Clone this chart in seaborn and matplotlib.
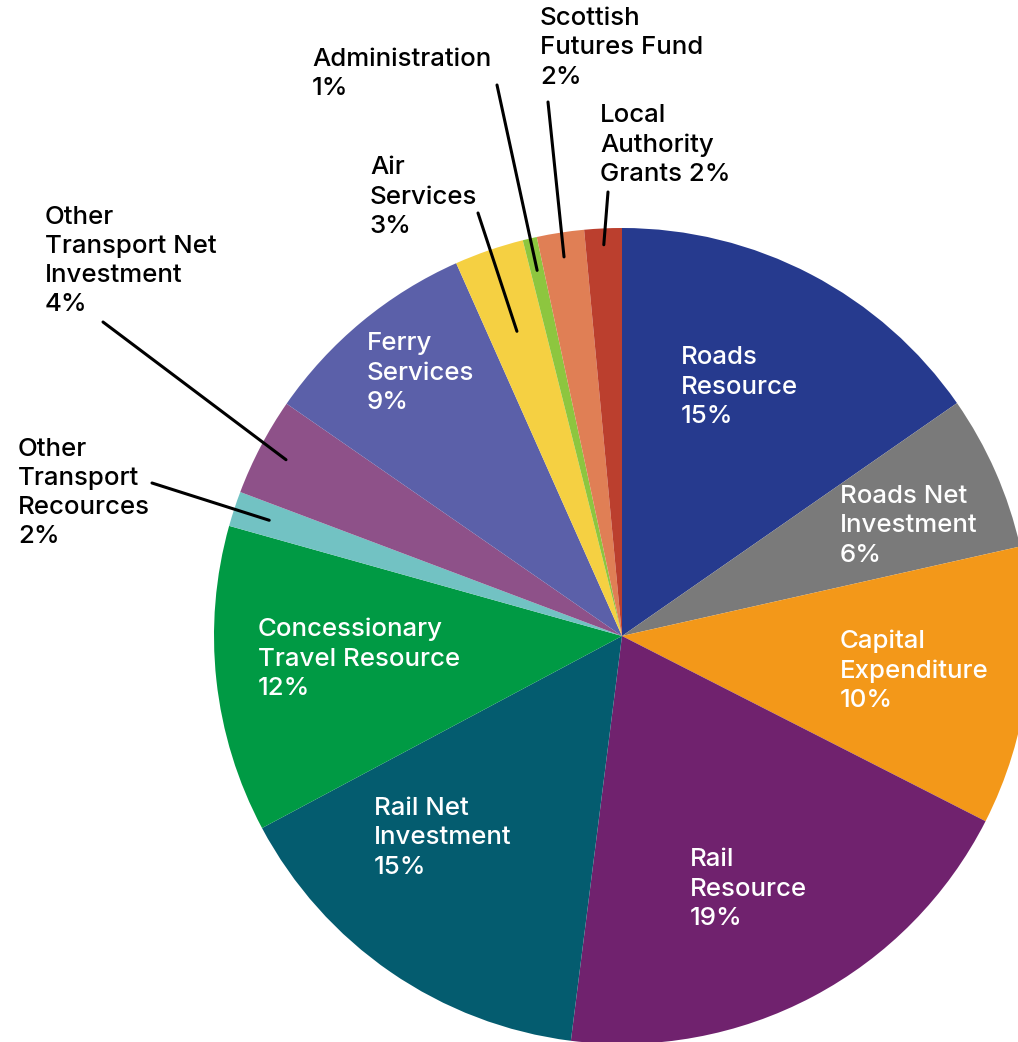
import matplotlib.pyplot as plt
import seaborn as sns
import numpy as np

# slice shares (clockwise from 12 o'clock)
categories = ['Roads Resource', 'Roads Net Investment', 'Capital Expenditure',
              'Rail Resource', 'Rail Net Investment', 'Concessionary Travel Resource',
              'Other Transport Recources', 'Other Transport Net Investment',
              'Ferry Services', 'Air Services', 'Administration',
              'Scottish Futures Fund', 'Local Authority Grants']
shares = [15.33, 6.15, 11.02, 19.5, 15.2, 12.15, 1.39, 3.9, 8.7, 2.75, 0.56, 1.87, 1.48]
labels = ['Roads\nResource\n15%', 'Roads Net\nInvestment\n6%', 'Capital\nExpenditure\n10%',
          'Rail\nResource\n19%', 'Rail Net\nInvestment\n15%', 'Concessionary\nTravel Resource\n12%',
          'Other\nTransport\nRecources\n2%', 'Other\nTransport Net\nInvestment\n4%',
          'Ferry\nServices\n9%', 'Air\nServices\n3%', 'Administration\n1%',
          'Scottish\nFutures Fund\n2%', 'Local\nAuthority\nGrants 2%']
colors = ['#263a8e', '#7a7a7a', '#f39819', '#70226e', '#045c6f', '#009a44',
          '#72c2c3', '#8e5189', '#5b60a9', '#f5d042', '#8dc63f', '#e07f55', '#bb3f2e']

sns.set_theme(style='white')
plt.rcParams['font.family'] = ['Inter', 'DejaVu Sans']

W, H = 1018, 1042
fig = plt.figure(figsize=(W / 100, H / 100), dpi=100)
ax = fig.add_axes([0, 0, 1, 1])
cx, cy, R = 622, H - 636, 408

wedges, _ = ax.pie(shares, colors=sns.color_palette(colors), startangle=90, counterclock=False,
                   radius=R, center=(cx, cy), wedgeprops=dict(linewidth=0))
ax.set_xlim(0, W)
ax.set_ylim(0, H)
ax.set_aspect('equal')
ax.axis('off')

# label placement: (left x, centre y in picture pixels, text colour)
pos = {
    'Roads Resource': (681, 387, 'white'),
    'Roads Net Investment': (840, 526, 'white'),
    'Capital Expenditure': (840, 671, 'white'),
    'Rail Resource': (690, 889, 'white'),
    'Rail Net Investment': (374, 838, 'white'),
    'Concessionary Travel Resource': (258, 659, 'white'),
    'Other Transport Recources': (18, 493, 'black'),
    'Other Transport Net Investment': (45, 261, 'black'),
    'Ferry Services': (367, 373, 'white'),
    'Air Services': (370, 197, 'black'),
    'Administration': (312, 74, 'black'),
    'Scottish Futures Fund': (540, 48, 'black'),
    'Local Authority Grants': (600, 145, 'black'),
}
# leader lines: outer end in pixels, inner end as fraction of radius on wedge middle
leaders = {
    'Other Transport Recources': ((152, 483), 0.91),
    'Other Transport Net Investment': ((103, 322), 0.93),
    'Air Services': ((478, 213), 0.79),
    'Administration': ((497, 85), 0.92),
    'Scottish Futures Fund': ((548, 102), 0.94),
    'Local Authority Grants': ((608, 192), 0.96),
}

for w, cat, lab in zip(wedges, categories, labels):
    x, y, c = pos[cat]
    ax.text(x, H - y, lab, color=c, fontsize=18.6, ha='left', va='center',
            linespacing=1.35, fontweight='medium')
    if cat in leaders:
        (ox, oy), f = leaders[cat]
        a = np.deg2rad((w.theta1 + w.theta2) / 2)
        ax.annotate('', xy=(cx + f * R * np.cos(a), cy + f * R * np.sin(a)),
                    xytext=(ox, H - oy),
                    arrowprops=dict(arrowstyle='-', color='black', lw=2.2,
                                    shrinkA=0, shrinkB=0))

fig.savefig('out.png', dpi=100)
